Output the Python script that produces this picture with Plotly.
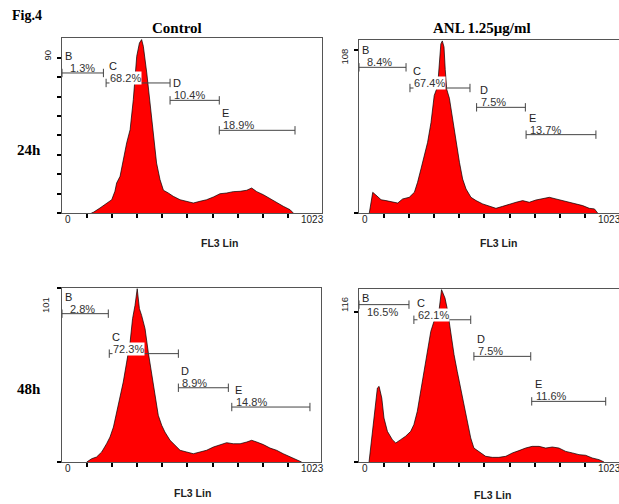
import plotly.graph_objects as go

W, H = 619, 504

# ---------------- data (channel, count) ----------------
ctrl24_ch = [120, 128, 155, 182, 203, 216, 223, 237, 250, 264, 278, 291, 305, 316, 325, 332, 346, 359,
             373, 386, 400, 414, 434, 454, 482, 509, 536, 563, 590, 618, 645, 672, 699, 727, 754, 774,
             795, 822, 849, 876, 903, 931, 944]
ctrl24_ct = [0, 0.4, 2.9, 5.8, 7.7, 12.6, 17.4, 21.3, 31, 40.7, 48.4, 65.8, 91, 98.7, 100.7, 96.8, 81.3, 63.9,
             46.5, 29, 19.4, 13.2, 11.6, 9.7, 7.7, 6.8, 5.8, 6.8, 7.7, 9.3, 11.2, 11.6, 12.4, 12.6, 13.2, 14.5,
             12.4, 10.6, 8.3, 6.4, 3.9, 1.9, 0]

anl24_ch = [42, 45, 56, 69, 90, 110, 137, 158, 178, 205, 226, 239, 253, 267, 280, 294, 307, 321, 328, 334,
            340, 347, 352, 358, 369, 382, 396, 410, 423, 437, 457, 478, 505, 532, 559, 586, 614, 641, 668,
            695, 722, 750, 777, 804, 831, 859, 886, 913, 940, 961, 974]
anl24_ct = [0, 2.7, 13.7, 11.9, 8.8, 8.2, 7.1, 6.6, 9.3, 10.4, 13.7, 20.3, 29.2, 38, 46.8, 60, 77.8, 84, 100, 112,
            114, 110, 95, 82, 76, 62.3, 46.8, 33.6, 22.5, 15.9, 10.4, 8.2, 6, 4.4, 3.1, 4.4, 6, 7.1, 8.2,
            7.1, 8.6, 9.3, 10.4, 9.3, 8.2, 7.1, 6, 4.9, 3.1, 2.7, 0]

ctrl48_ch = [101, 121, 141, 162, 182, 196, 210, 223, 237, 250, 264, 278, 288, 298, 307, 316, 325, 339, 352,
             366, 380, 393, 407, 420, 441, 461, 482, 509, 536, 563, 590, 618, 645, 672, 699, 727, 754, 774,
             795, 822, 849, 876, 903, 931, 958, 978]
ctrl48_ct = [0, 1.9, 2.9, 5.8, 10.6, 14.5, 20.3, 29, 38.7, 46.4, 58, 69.6, 83.2, 90.9, 100.6, 89, 85.1, 77.4, 63.8,
             50.3, 38.7, 27.1, 21.3, 17.4, 12.6, 9.7, 6.8, 5.8, 4.8, 5.8, 6.8, 8.7, 10.1, 11.2, 10.6, 10.6, 11.6, 12.6,
             11.6, 10.1, 8.1, 6.8, 4.8, 2.9, 1.5, 0]

anl48_ch = [41, 54, 65, 75, 82, 93, 102, 116, 136, 150, 170, 190, 211, 224, 238, 252, 265, 279, 293, 306, 327,
            337, 351, 361, 374, 388, 401, 415, 429, 442, 456, 469, 490, 517, 544, 571, 599, 626, 653, 680,
            707, 735, 762, 789, 816, 844, 871, 898, 925, 952, 980, 1000]
anl48_ct = [0, 23.7, 44.3, 57.2, 58.5, 49.5, 34, 23.7, 17.3, 14.7, 17.3, 19.9, 23.7, 28.9, 39.2, 54.7, 70.1, 85.6,
            101, 108.8, 117.8, 133.3, 126.8, 117.8, 101, 83, 70.1, 57.2, 44.3, 31.5, 18.6, 10.8, 8.2, 4.4, 3.6,
            3.6, 4.4, 7, 8.8, 10.8, 12.1, 12.1, 10.8, 11.6, 10.8, 8.2, 7, 5.7, 5.2, 3.1, 1.8, 0]

# gates (markers B-E)
gate_letters = ["B", "C", "D", "E"]
ctrl24_lo = [0, 180, 441, 642]
ctrl24_hi = [169, 441, 642, 951]
ctrl24_lvl = [81.3, 75.5, 65.4, 48]
ctrl24_pct = ["1.3%", "68.2%", "10.4%", "18.9%"]

anl24_lo = [0, 208, 480, 682]
anl24_hi = [192, 453, 679, 967]
anl24_lvl = [96.5, 82.8, 70, 51.9]
anl24_pct = ["8.4%", "67.4%", "7.5%", "13.7%"]

ctrl48_lo = [0, 193, 475, 693]
ctrl48_hi = [189, 475, 679, 1012]
ctrl48_lvl = [86.1, 62.9, 43.1, 31.9]
ctrl48_pct = ["2.8%", "72.3%", "8.9%", "14.8%"]

anl48_lo = [0, 224, 469, 705]
anl48_hi = [204, 456, 701, 1007]
anl48_lvl = [121.7, 110, 81.7, 46.9]
anl48_pct = ["16.5%", "62.1%", "7.5%", "11.6%"]

col_titles = ["Control", "ANL 1.25\u03bcg/ml"]
row_titles = ["24h", "48h"]
x_label = "FL3 Lin"
x_tick_step = 102.4
ctrl24_yticks = [0, 11.25, 22.5, 33.75, 45, 56.25, 67.5, 78.75, 90]
ymax_labels = ["90", "108", "101", "116"]

# ---------------- layout of the four panels (pixels) ----------------
panels = [
    dict(ch=ctrl24_ch, ct=ctrl24_ct, lo=ctrl24_lo, hi=ctrl24_hi, lvl=ctrl24_lvl, pct=ctrl24_pct,
         box=(62, 322, 38, 213), yr=101.6, yticks=ctrl24_yticks, ymax=ymax_labels[0],
         ymax_pos=(46.5, 55), xlab_pos=(219, 243), mirror_y=True, b_below=False),
    dict(ch=anl24_ch, ct=anl24_ct, lo=anl24_lo, hi=anl24_hi, lvl=anl24_lvl, pct=anl24_pct,
         box=(359, 619, 40, 213), yr=114.6, yticks=[0, 108], ymax=ymax_labels[1],
         ymax_pos=(343.5, 56), xlab_pos=(498, 243), mirror_y=False, b_below=False),
    dict(ch=ctrl48_ch, ct=ctrl48_ct, lo=ctrl48_lo, hi=ctrl48_hi, lvl=ctrl48_lvl, pct=ctrl48_pct,
         box=(62, 321, 288, 462), yr=101, yticks=[0, 101], ymax=ymax_labels[2],
         ymax_pos=(45, 305), xlab_pos=(192, 493), mirror_y=True, b_below=False),
    dict(ch=anl48_ch, ct=anl48_ct, lo=anl48_lo, hi=anl48_hi, lvl=anl48_lvl, pct=anl48_pct,
         box=(359, 619, 289, 462), yr=133.8, yticks=[0, 116], ymax=ymax_labels[3],
         ymax_pos=(344, 305), xlab_pos=(492, 495), mirror_y=False, b_below=True),
]

PXU = 0.245  # pixels per channel

fig = go.Figure()
annotations = []
SANS = "Liberation Sans"
SERIF = "Liberation Serif"


def px(x):
    return x / W


def py(y):
    return 1 - y / H


layout_axes = {}
for i, p in enumerate(panels, start=1):
    x0, x1, y0, y1 = p["box"]
    xr = (x1 - x0) / PXU
    xa = "x" if i == 1 else f"x{i}"
    ya = "y" if i == 1 else f"y{i}"
    xkey = "xaxis" if i == 1 else f"xaxis{i}"
    ykey = "yaxis" if i == 1 else f"yaxis{i}"
    layout_axes[xkey] = dict(domain=[px(x0), px(x1)], range=[0, xr], anchor=ya,
                             showline=True, linecolor="#555", linewidth=1, mirror=True,
                             ticks="outside", tickvals=[x_tick_step * k for k in range(1, 10)],
                             ticklen=4, tickwidth=2, tickcolor="black", showticklabels=False,
                             showgrid=False, zeroline=False, fixedrange=True)
    layout_axes[ykey] = dict(domain=[py(y1), py(y0)], range=[0, p["yr"]], anchor=xa,
                             showline=True, linecolor="#555", linewidth=1, mirror=p["mirror_y"],
                             ticks="outside", tickvals=p["yticks"], ticklen=4, tickwidth=2,
                             tickcolor="black", showticklabels=False, showgrid=False,
                             zeroline=False, fixedrange=True)

    fig.add_trace(go.Scatter(x=p["ch"], y=p["ct"], mode="lines", fill="tozeroy",
                             fillcolor="#ff0000", line=dict(color="#000000", width=0.7),
                             xaxis=xa, yaxis=ya, showlegend=False, hoverinfo="skip"))

    for j, L in enumerate(gate_letters):
        lo, hi, lv = p["lo"][j], p["hi"][j], p["lvl"][j]
        fig.add_trace(go.Scatter(x=[lo, hi], y=[lv, lv], mode="lines+markers",
                                 line=dict(color="#444", width=1),
                                 marker=dict(symbol="line-ns-open", size=6,
                                             line=dict(color="#444", width=1)),
                                 xaxis=xa, yaxis=ya, showlegend=False, hoverinfo="skip",
                                 cliponaxis=False))
        below = p["b_below"] and j == 0
        annotations.append(dict(x=lo, y=lv, xref=xa, yref=ya, text=L, showarrow=False,
                                xanchor="left", yanchor="middle", xshift=1,
                                yshift=7 if below else 17,
                                font=dict(family=SANS, size=11, color="#222")))
        annotations.append(dict(x=lo, y=lv, xref=xa, yref=ya, text=p["pct"][j], showarrow=False,
                                xanchor="left", yanchor="top" if below else "bottom",
                                xshift=7 if j == 0 else 3, yshift=0 if below else -2,
                                bgcolor="white" if j == 1 else None, borderpad=0,
                                font=dict(family=SANS, size=11, color="#333")))

    # axis labels
    annotations.append(dict(x=px(p["xlab_pos"][0]), y=py(p["xlab_pos"][1]), xref="paper", yref="paper",
                            text=f"<b>{x_label}</b>", showarrow=False, xanchor="center", yanchor="middle",
                            font=dict(family=SANS, size=10.5, color="#222")))
    annotations.append(dict(x=px(p["ymax_pos"][0]), y=py(p["ymax_pos"][1]), xref="paper", yref="paper",
                            text=p["ymax"], showarrow=False, textangle=-90, xanchor="center",
                            yanchor="middle", font=dict(family=SANS, size=9.5, color="#222")))
    annotations.append(dict(x=px(x0 + 1), y=py(y1 + 6), xref="paper", yref="paper", text="0",
                            showarrow=False, xanchor="left", yanchor="middle",
                            font=dict(family=SANS, size=10, color="#222")))
    annotations.append(dict(x=px(x0 + 237), y=py(y1 + 6), xref="paper", yref="paper", text="1023",
                            showarrow=False, xanchor="left", yanchor="middle",
                            font=dict(family=SANS, size=10, color="#222")))

# figure titles
annotations.append(dict(x=px(10), y=py(15), xref="paper", yref="paper", text="<b>Fig.4</b>",
                        showarrow=False, xanchor="left", yanchor="middle",
                        font=dict(family=SERIF, size=14, color="black")))
for t, cx in zip(col_titles, [177, 482]):
    annotations.append(dict(x=px(cx), y=py(28), xref="paper", yref="paper", text=f"<b>{t}</b>",
                            showarrow=False, xanchor="center", yanchor="middle",
                            font=dict(family=SERIF, size=15, color="black")))
for t, cy in zip(row_titles, [150, 389]):
    annotations.append(dict(x=px(29), y=py(cy), xref="paper", yref="paper", text=f"<b>{t}</b>",
                            showarrow=False, xanchor="center", yanchor="middle",
                            font=dict(family=SERIF, size=15, color="black")))

fig.update_layout(width=W, height=H, margin=dict(l=0, r=0, t=0, b=0),
                  paper_bgcolor="white", plot_bgcolor="white", showlegend=False,
                  annotations=annotations, **layout_axes)

fig.write_html("out.html", config={"displayModeBar": False})
